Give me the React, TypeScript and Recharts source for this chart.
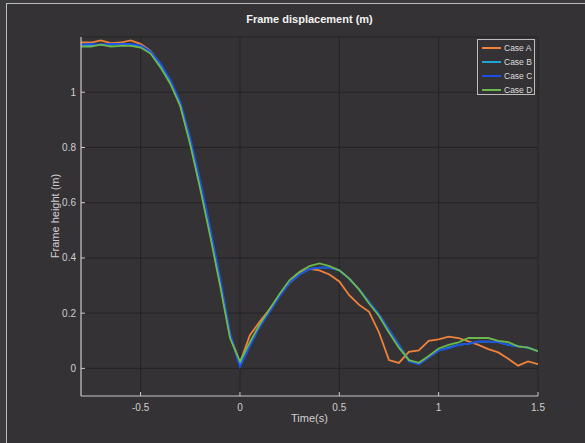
import React from "react";
import { LineChart, Line, XAxis, YAxis, CartesianGrid } from "recharts";

const times = [
  -0.8, -0.75, -0.7, -0.65, -0.6, -0.55, -0.5, -0.45, -0.4, -0.35, -0.3, -0.25,
  -0.2, -0.15, -0.1, -0.05, 0, 0.05, 0.1, 0.15, 0.2, 0.25, 0.3, 0.35, 0.4, 0.45,
  0.5, 0.55, 0.6, 0.65, 0.7, 0.75, 0.8, 0.85, 0.9, 0.95, 1.0, 1.05, 1.1, 1.15,
  1.2, 1.25, 1.3, 1.35, 1.4, 1.45, 1.5,
];

const caseA = [
  1.18, 1.18, 1.188, 1.178, 1.18, 1.188, 1.175, 1.15, 1.1, 1.04, 0.95, 0.82,
  0.66, 0.49, 0.31, 0.12, 0.02, 0.12, 0.17, 0.215, 0.265, 0.31, 0.345, 0.36, 0.355, 0.34,
  0.315, 0.265, 0.23, 0.205, 0.13, 0.03, 0.02, 0.06, 0.065, 0.1, 0.105, 0.115, 0.11, 0.098,
  0.085, 0.07, 0.058, 0.035, 0.01, 0.025, 0.015,
];

const caseB = [
  1.168, 1.17, 1.172, 1.172, 1.175, 1.172, 1.168, 1.145, 1.1, 1.04, 0.955, 0.825,
  0.66, 0.495, 0.315, 0.12, 0.01, 0.085, 0.155, 0.21, 0.265, 0.31, 0.34, 0.36, 0.365, 0.365,
  0.355, 0.325, 0.285, 0.24, 0.195, 0.14, 0.085, 0.03, 0.015, 0.04, 0.065, 0.075, 0.085, 0.09,
  0.097, 0.097, 0.095, 0.085, 0.08, 0.075, 0.062,
];

const caseC = [
  1.172, 1.175, 1.172, 1.175, 1.175, 1.175, 1.17, 1.148, 1.105, 1.045, 0.965, 0.835,
  0.68, 0.51, 0.33, 0.13, 0.005, 0.08, 0.15, 0.205, 0.26, 0.31, 0.34, 0.36, 0.365, 0.365,
  0.355, 0.325, 0.285, 0.24, 0.195, 0.14, 0.085, 0.025, 0.015, 0.04, 0.065, 0.072, 0.085, 0.09,
  0.097, 0.097, 0.095, 0.085, 0.08, 0.075, 0.062,
];

const caseD = [
  1.165, 1.165, 1.172, 1.165, 1.168, 1.168, 1.162, 1.14, 1.09, 1.03, 0.95, 0.81,
  0.65, 0.48, 0.3, 0.11, 0.025, 0.095, 0.16, 0.215, 0.27, 0.32, 0.35, 0.37, 0.38, 0.37,
  0.355, 0.325, 0.285, 0.235, 0.19, 0.13, 0.075, 0.03, 0.02, 0.045, 0.072, 0.085, 0.094, 0.11,
  0.11, 0.11, 0.1, 0.095, 0.08, 0.075, 0.062,
];

const xTicks = [-0.5, 0, 0.5, 1, 1.5];
const yTicks = [0, 0.2, 0.4, 0.6, 0.8, 1];

const seriesNames = ["Case A", "Case B", "Case C", "Case D"];
const seriesColors = ["#f0823a", "#20a4d4", "#1c50e4", "#6cb84c"];

const data = times.map((t, i) => ({
  t,
  a: caseA[i],
  b: caseB[i],
  c: caseC[i],
  d: caseD[i],
}));
const keys = ["a", "b", "c", "d"];

const AXIS = "#cfcfcf";
const TXT = "#cfcfcf";
const FONT = "'Liberation Sans', Arial, sans-serif";

const XTick = (props: any) => {
  const { x, y, payload } = props;
  return (
    <g>
      <line x1={x} x2={x} y1={y} y2={y - 4} stroke={AXIS} strokeWidth={1} />
      <text x={x} y={y + 14.5} textAnchor="middle" fill={TXT} fontSize={10} fontFamily={FONT}>
        {String(payload.value)}
      </text>
    </g>
  );
};

const YTick = (props: any) => {
  const { x, y, payload } = props;
  return (
    <g>
      <line x1={x} x2={x + 4} y1={y} y2={y} stroke={AXIS} strokeWidth={1} />
      <text x={x - 5} y={y + 3.5} textAnchor="end" fill={TXT} fontSize={10} fontFamily={FONT}>
        {String(payload.value)}
      </text>
    </g>
  );
};

const TopTick = (props: any) => {
  const { x, y } = props;
  return <line x1={x} x2={x} y1={y} y2={y + 4} stroke={AXIS} strokeWidth={1} />;
};

const RightTick = (props: any) => {
  const { x, y } = props;
  return <line x1={x} x2={x - 4} y1={y} y2={y} stroke={AXIS} strokeWidth={1} />;
};

const LegendBox = () => (
  <div
    style={{
      position: "absolute",
      left: 477,
      top: 39,
      width: 58,
      height: 56,
      boxSizing: "border-box",
      border: "1px solid #bdbdbd",
      background: "#343235",
      padding: "1px 0 0 4px",
      fontFamily: FONT,
      fontSize: 8.5,
      color: "#dcdcdc",
    }}
  >
    {seriesNames.map((n, i) => (
      <div key={n} style={{ display: "flex", alignItems: "center", height: 14, whiteSpace: "nowrap" }}>
        <div style={{ width: 19, height: 2, background: seriesColors[i], marginRight: 3 }} />
        <span>{n}</span>
      </div>
    ))}
  </div>
);

export default function App() {
  return (
    <div
      style={{
        position: "absolute",
        left: 0,
        top: 0,
        width: 585,
        height: 443,
        background: "#3b3a3c",
        overflow: "hidden",
      }}
    >
      <div
        style={{
          position: "absolute",
          left: 6,
          top: 3,
          width: 600,
          height: 460,
          borderTop: "1px solid #bdbdbd",
          borderLeft: "1px solid #bdbdbd",
          background: "#343235",
        }}
      />
      <div style={{ position: "absolute", left: 0, top: 0 }}>
        <LineChart
          width={585}
          height={443}
          data={data}
          margin={{ top: 37, right: 47, bottom: 27, left: 41 }}
        >
          <CartesianGrid stroke="#252425" strokeWidth={1} />
          <XAxis
            dataKey="t"
            type="number"
            domain={[-0.8, 1.5]}
            ticks={xTicks}
            allowDataOverflow
            height={20}
            tickSize={0}
            tickMargin={0}
            tickLine={false}
            axisLine={{ stroke: AXIS, strokeWidth: 1.2 }}
            tick={<XTick />}
            interval={0}
          />
          <XAxis
            xAxisId="top"
            orientation="top"
            dataKey="t"
            type="number"
            domain={[-0.8, 1.5]}
            ticks={xTicks}
            allowDataOverflow
            height={0}
            tickSize={0}
            tickMargin={0}
            tickLine={false}
            axisLine={{ stroke: AXIS, strokeWidth: 1.2 }}
            tick={<TopTick />}
            interval={0}
          />
          <YAxis
            type="number"
            domain={[-0.1, 1.2]}
            ticks={yTicks}
            allowDataOverflow
            width={40}
            tickSize={0}
            tickMargin={0}
            tickLine={false}
            axisLine={{ stroke: AXIS, strokeWidth: 1.2 }}
            tick={<YTick />}
            interval={0}
          />
          <YAxis
            yAxisId="right"
            orientation="right"
            type="number"
            domain={[-0.1, 1.2]}
            ticks={yTicks}
            allowDataOverflow
            width={0}
            tickSize={0}
            tickMargin={0}
            tickLine={false}
            axisLine={{ stroke: AXIS, strokeWidth: 1.2 }}
            tick={<RightTick />}
            interval={0}
          />
          {keys.map((k, i) => (
            <Line
              key={k}
              dataKey={k}
              name={seriesNames[i]}
              type="linear"
              stroke={seriesColors[i]}
              strokeWidth={1.8}
              dot={false}
              isAnimationActive={false}
            />
          ))}
        </LineChart>
      </div>
      <LegendBox />
      <div
        style={{
          position: "absolute",
          left: 81,
          width: 457,
          top: 13,
          textAlign: "center",
          fontFamily: FONT,
          fontWeight: "bold",
          fontSize: 11,
          color: "#f2f2f2",
        }}
      >
        Frame displacement (m)
      </div>
      <div
        style={{
          position: "absolute",
          left: 81,
          width: 457,
          top: 412,
          textAlign: "center",
          fontFamily: FONT,
          fontSize: 11,
          color: TXT,
        }}
      >
        Time(s)
      </div>
      <div
        style={{
          position: "absolute",
          left: 55,
          top: 216,
          transform: "translate(-50%, -50%) rotate(-90deg)",
          whiteSpace: "nowrap",
          fontFamily: FONT,
          fontSize: 11,
          color: TXT,
        }}
      >
        Frame height (m)
      </div>
    </div>
  );
}
